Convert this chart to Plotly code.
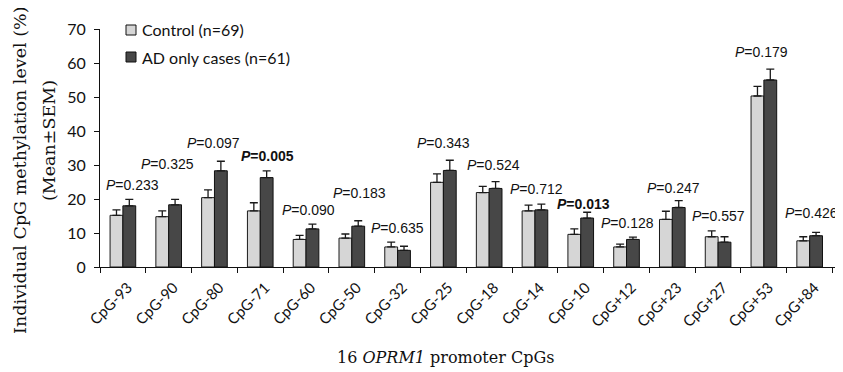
import plotly.graph_objects as go

categories = ["CpG-93", "CpG-90", "CpG-80", "CpG-71", "CpG-60", "CpG-50", "CpG-32", "CpG-25",
              "CpG-18", "CpG-14", "CpG-10", "CpG+12", "CpG+23", "CpG+27", "CpG+53", "CpG+84"]
control_mean = [15.2, 14.8, 20.4, 16.5, 8.1, 8.5, 5.9, 24.9, 21.9, 16.5, 9.6, 5.9, 14.0, 8.9, 50.3, 7.7]
control_sem = [1.6, 1.7, 2.3, 2.4, 1.2, 1.2, 1.4, 2.5, 1.8, 1.7, 1.6, 0.8, 2.4, 1.7, 2.8, 1.2]
ad_mean = [18.0, 18.3, 28.3, 26.3, 11.2, 12.0, 4.9, 28.4, 23.1, 16.8, 14.4, 8.1, 17.5, 7.3, 55.0, 9.2]
ad_sem = [1.9, 1.6, 2.8, 2.0, 1.4, 1.6, 1.2, 3.0, 2.0, 1.7, 1.7, 0.7, 2.0, 1.6, 3.2, 1.0]
p_values = ["0.233", "0.325", "0.097", "0.005", "0.090", "0.183", "0.635", "0.343",
            "0.524", "0.712", "0.013", "0.128", "0.247", "0.557", "0.179", "0.426"]
p_bold = [False, False, False, True, False, False, False, False,
          False, False, True, False, False, False, False, False]
series_names = ["Control (n=69)", "AD only cases (n=61)"]

# annotation placement (layout only)
label_y = [24.1, 30.3, 36.5, 32.7, 16.7, 21.7, 11.4, 36.5, 30.0, 22.9, 18.6, 12.9, 23.1, 15.0, 63.2, 15.8]
label_dx = [0.2, -0.03, -0.03, 0.15, 0.05, 0.16, 0.0, 0.0, 0.09, 0.04, 0.07, 0.03, 0.03, 0.0, -0.06, 0.04]

CTRL_COLOR = "#d6d6d6"
AD_COLOR = "#474747"
INK = "#111111"

# page is 843x372; the HTML body adds an 8px margin, so the figure is 8px smaller
PAGE_OFF = 8
W, H = 843 - PAGE_OFF, 372 - PAGE_OFF
# plot area in page pixels: x 100..840, y 29..267
L, R = 100 - PAGE_OFF, W - (840 - PAGE_OFF)
T, B = 29 - PAGE_OFF, H - (267 - PAGE_OFF)
pw, ph = W - L - R, H - T - B


def px_x(x):  # page pixel -> paper
    return (x - PAGE_OFF - L) / pw


def px_y(y):
    return 1 - (y - PAGE_OFF - T) / ph


fig = go.Figure()
fig.add_trace(go.Bar(
    name=series_names[0], x=categories, y=control_mean,
    marker=dict(color=CTRL_COLOR, line=dict(color="#1a1a1a", width=1)),
    error_y=dict(type="data", array=control_sem, arrayminus=[0] * len(control_sem), symmetric=False,
                 color="#1a1a1a", thickness=1.3, width=4),
))
fig.add_trace(go.Bar(
    name=series_names[1], x=categories, y=ad_mean,
    marker=dict(color=AD_COLOR, line=dict(color=INK, width=1)),
    error_y=dict(type="data", array=ad_sem, arrayminus=[0] * len(ad_sem), symmetric=False,
                 color="#1a1a1a", thickness=1.3, width=4),
))

annotations = []
for i, (p, b) in enumerate(zip(p_values, p_bold)):
    txt = "<i>P</i>=" + p
    if b:
        txt = "<b>" + txt + "</b>"
    annotations.append(dict(
        x=i + label_dx[i], y=label_y[i], xref="x", yref="y", text=txt, showarrow=False,
        xanchor="center", yanchor="middle",
        font=dict(family="Liberation Sans, Arial, sans-serif", size=14, color=INK),
    ))

serif = dict(family="DejaVu Serif, serif", size=17.5, color=INK)
annotations.append(dict(x=px_x(20), y=px_y(171), xref="paper", yref="paper",
                        text="Individual CpG methylation level (%)", showarrow=False, textangle=-90,
                        xanchor="center", yanchor="middle", font=serif))
annotations.append(dict(x=px_x(49), y=px_y(141), xref="paper", yref="paper",
                        text="(Mean±SEM)", showarrow=False, textangle=-90,
                        xanchor="center", yanchor="middle", font=serif))
annotations.append(dict(x=px_x(445), y=px_y(357), xref="paper", yref="paper",
                        text="16 <i>OPRM1</i> promoter CpGs", showarrow=False,
                        xanchor="center", yanchor="middle",
                        font=dict(family="DejaVu Serif, serif", size=16, color=INK)))

# manual legend
shapes = []
legend_rows = [(30, CTRL_COLOR), (57, AD_COLOR)]
for (yc, col), name in zip(legend_rows, series_names):
    shapes.append(dict(type="rect", xref="paper", yref="paper",
                       x0=px_x(126), x1=px_x(136), y0=px_y(yc + 5), y1=px_y(yc - 5),
                       fillcolor=col, line=dict(color=INK, width=1)))
    annotations.append(dict(x=px_x(140), y=px_y(yc), xref="paper", yref="paper", text=name,
                            showarrow=False, xanchor="left", yanchor="middle",
                            font=dict(family="Lato, sans-serif", size=16, color=INK)))

fig.update_layout(
    width=W, height=H,
    margin=dict(l=L, r=R, t=T, b=B, autoexpand=False),
    paper_bgcolor="white", plot_bgcolor="white",
    barmode="group", bargap=0.44, bargroupgap=0,
    showlegend=False,
    annotations=annotations, shapes=shapes,
    font=dict(family="Lato, sans-serif", color=INK),
)
fig.update_xaxes(
    type="category", tickson="boundaries", ticks="outside", ticklen=5, tickcolor=INK,
    showline=True, linecolor=INK, linewidth=1, showgrid=False, automargin=False,
    tickangle=-45, tickfont=dict(family="Lato, sans-serif", size=15, color=INK),
    ticklabelstandoff=5, ticklabelshift=5,
)
fig.update_yaxes(
    range=[0, 70], dtick=10, ticks="outside", ticklen=5, tickcolor=INK, automargin=False,
    showline=True, linecolor=INK, linewidth=1, showgrid=False, zeroline=False,
    tickfont=dict(family="Lato, sans-serif", size=16, color=INK), ticklabelstandoff=5,
)

fig.write_html("out.html")
